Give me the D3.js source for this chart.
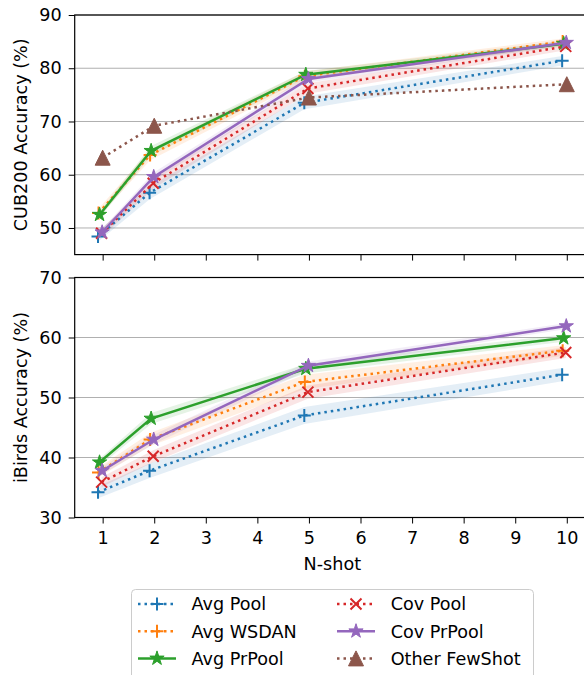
<!DOCTYPE html>
<html>
<head>
<meta charset="utf-8">
<script src="https://cdn.jsdelivr.net/npm/d3@7"></script>
<style>
  body { margin: 0; background: #fff; }
  svg { display: block; font-family: "DejaVu Sans", sans-serif; }
</style>
</head>
<body>
<svg id="chart" width="584" height="675"></svg>
<script>
// x positions and series
const shots = [1, 2, 5, 10];
const seriesNames = ["Avg Pool", "Avg WSDAN", "Avg PrPool", "Cov Pool", "Cov PrPool", "Other FewShot"];
const seriesColors = ["#1f77b4", "#ff7f0e", "#2ca02c", "#d62728", "#9467bd", "#8c564b"];
const seriesMarkers = ["plus", "plus", "star", "times", "star", "triangle"];
const seriesDash = [true, true, false, true, false, true];
const jitter = [-0.09, -0.08, -0.06, -0.02, -0.01, 0];

// CUB200 accuracy (%)
const cubAvgPool   = [48.4, 56.6, 73.5, 81.4];
const cubAvgWsdan  = [52.8, 63.7, 78.5, 85.0];
const cubAvgPrPool = [52.5, 64.5, 78.8, 84.6];
const cubCovPool   = [49.0, 58.4, 76.2, 84.1];
const cubCovPrPool = [49.2, 59.6, 78.0, 84.8];
const cubOther     = [63.2, 69.2, 74.5, 77.0];
const cubBand      = [[1.0, 1.2, 1.2, 0.9], [0.8, 1.0, 0.9, 0.6], [0.6, 0.9, 0.7, 0.5],
                      [0.8, 1.0, 1.0, 0.7], [0.6, 0.8, 0.7, 0.5], null];

// iBirds accuracy (%)
const ibAvgPool    = [34.2, 37.8, 47.0, 53.8];
const ibAvgWsdan   = [37.5, 43.0, 52.6, 57.8];
const ibAvgPrPool  = [39.2, 46.5, 54.8, 59.9];
const ibCovPool    = [35.9, 40.2, 50.9, 57.5];
const ibCovPrPool  = [37.8, 43.0, 55.3, 61.9];
const ibBand       = [[1.0, 1.2, 1.4, 1.1], [0.8, 1.1, 1.2, 0.9], [0.6, 0.9, 0.8, 0.6],
                      [0.8, 1.0, 1.1, 0.9], [0.6, 0.8, 0.7, 0.5]];

const xTicks = [1, 2, 3, 4, 5, 6, 7, 8, 9, 10];
const cubTicks = [50, 60, 70, 80, 90];
const ibTicks = [30, 40, 50, 60, 70];

const FS = 17.6;
const svg = d3.select("#chart");
const left = 74.7, right = 590;

const x = d3.scaleLinear().domain([0.458, 10.45]).range([left, right]);

const panels = [
  { label: "CUB200 Accuracy (%)", domain: [45, 90], top: 15, bottom: 254.6, ticks: cubTicks,
    data: [cubAvgPool, cubAvgWsdan, cubAvgPrPool, cubCovPool, cubCovPrPool, cubOther], band: cubBand, xLabels: false },
  { label: "iBirds Accuracy (%)", domain: [30, 70], top: 277.5, bottom: 517.5, ticks: ibTicks,
    data: [ibAvgPool, ibAvgWsdan, ibAvgPrPool, ibCovPool, ibCovPrPool], band: ibBand, xLabels: true }
];

function markerPath(type) {
  const p = d3.path();
  if (type === "plus") {
    const r = 6.5;
    p.moveTo(-r, 0); p.lineTo(r, 0); p.moveTo(0, -r); p.lineTo(0, r);
  } else if (type === "times") {
    const r = 5.5;
    p.moveTo(-r, -r); p.lineTo(r, r); p.moveTo(-r, r); p.lineTo(r, -r);
  } else if (type === "star") {
    const ro = 7.5, ri = ro * 0.382;
    for (let i = 0; i < 10; i++) {
      const a = -Math.PI / 2 + i * Math.PI / 5;
      const r = i % 2 === 0 ? ro : ri;
      if (i === 0) p.moveTo(r * Math.cos(a), r * Math.sin(a));
      else p.lineTo(r * Math.cos(a), r * Math.sin(a));
    }
    p.closePath();
  } else if (type === "triangle") {
    const r = 7.5;
    p.moveTo(0, -r); p.lineTo(-r, r); p.lineTo(r, r); p.closePath();
  }
  return p.toString();
}

function drawMarker(g, type, color, cx, cy) {
  const filled = type === "star" || type === "triangle";
  g.append("path")
    .attr("d", markerPath(type))
    .attr("transform", `translate(${cx},${cy})`)
    .attr("fill", filled ? color : "none")
    .attr("stroke", color)
    .attr("stroke-width", filled ? 1 : 2)
    .attr("stroke-linejoin", "miter");
}

panels.forEach(panel => {
  const y = d3.scaleLinear().domain(panel.domain).range([panel.bottom, panel.top]);
  const g = svg.append("g");

  // grid
  g.append("g").selectAll("line")
    .data(panel.ticks)
    .enter().append("line")
    .attr("x1", left).attr("x2", right)
    .attr("y1", d => y(d)).attr("y2", d => y(d))
    .attr("stroke", "#b0b0b0").attr("stroke-width", 1);

  // bands
  panel.data.forEach((vals, i) => {
    const b = panel.band[i];
    if (!b) return;
    const area = d3.area()
      .x((d, j) => x(shots[j] + jitter[i]))
      .y0((d, j) => y(d - b[j]))
      .y1((d, j) => y(d + b[j]));
    g.append("path")
      .attr("d", area(vals))
      .attr("fill", seriesColors[i])
      .attr("fill-opacity", 0.12);
  });

  // lines + markers
  panel.data.forEach((vals, i) => {
    const line = d3.line().x((d, j) => x(shots[j] + jitter[i])).y(d => y(d));
    g.append("path")
      .attr("d", line(vals))
      .attr("fill", "none")
      .attr("stroke", seriesColors[i])
      .attr("stroke-width", 2.5)
      .attr("stroke-dasharray", seriesDash[i] ? "2.5,4" : null);
    vals.forEach((v, j) => drawMarker(g, seriesMarkers[i], seriesColors[i], x(shots[j] + jitter[i]), y(v)));
  });

  // axes
  const yAxis = g.append("g")
    .attr("transform", `translate(${left},0)`)
    .call(d3.axisLeft(y).tickValues(panel.ticks).tickSize(6).tickPadding(7));
  const xAxis = g.append("g")
    .attr("transform", `translate(0,${panel.bottom})`)
    .call(d3.axisBottom(x).tickValues(xTicks).tickSize(6).tickPadding(8.4)
      .tickFormat(panel.xLabels ? d3.format("d") : () => ""));
  [yAxis, xAxis].forEach(a => {
    a.select(".domain").remove();
    a.selectAll("line").attr("stroke", "#000").attr("stroke-width", 1);
    a.selectAll("text").attr("font-size", FS).attr("font-family", "DejaVu Sans").attr("fill", "#000");
  });

  // frame
  g.append("rect")
    .attr("x", left).attr("y", panel.top)
    .attr("width", right - left).attr("height", panel.bottom - panel.top)
    .attr("fill", "none").attr("stroke", "#000").attr("stroke-width", 1.2);

  g.append("text")
    .attr("transform", `translate(26.5,${(panel.top + panel.bottom) / 2}) rotate(-90)`)
    .attr("text-anchor", "middle")
    .attr("font-size", FS)
    .text(panel.label);
});

svg.append("text")
  .attr("x", (left + right) / 2).attr("y", 569.5)
  .attr("text-anchor", "middle")
  .attr("font-size", FS)
  .text("N-shot");

// legend
const legend = svg.append("g");
legend.append("rect")
  .attr("x", 131.5).attr("y", 589.5).attr("width", 402).attr("height", 95)
  .attr("rx", 4).attr("fill", "#fff").attr("fill-opacity", 0.8)
  .attr("stroke", "#cccccc").attr("stroke-width", 1);

seriesNames.forEach((name, i) => {
  const col = Math.floor(i / 3), row = i % 3;
  const hx = col === 0 ? 138 : 337;
  const tx = col === 0 ? 191.5 : 390.7;
  const cy = 604 + row * 27.2;
  legend.append("line")
    .attr("x1", hx).attr("x2", hx + 38).attr("y1", cy).attr("y2", cy)
    .attr("stroke", seriesColors[i]).attr("stroke-width", 2.5)
    .attr("stroke-dasharray", seriesDash[i] ? "2.5,4" : null);
  drawMarker(legend, seriesMarkers[i], seriesColors[i], hx + 19, cy);
  legend.append("text")
    .attr("x", tx).attr("y", cy + 6.3)
    .attr("font-size", FS)
    .text(name);
});
</script>
</body>
</html>
